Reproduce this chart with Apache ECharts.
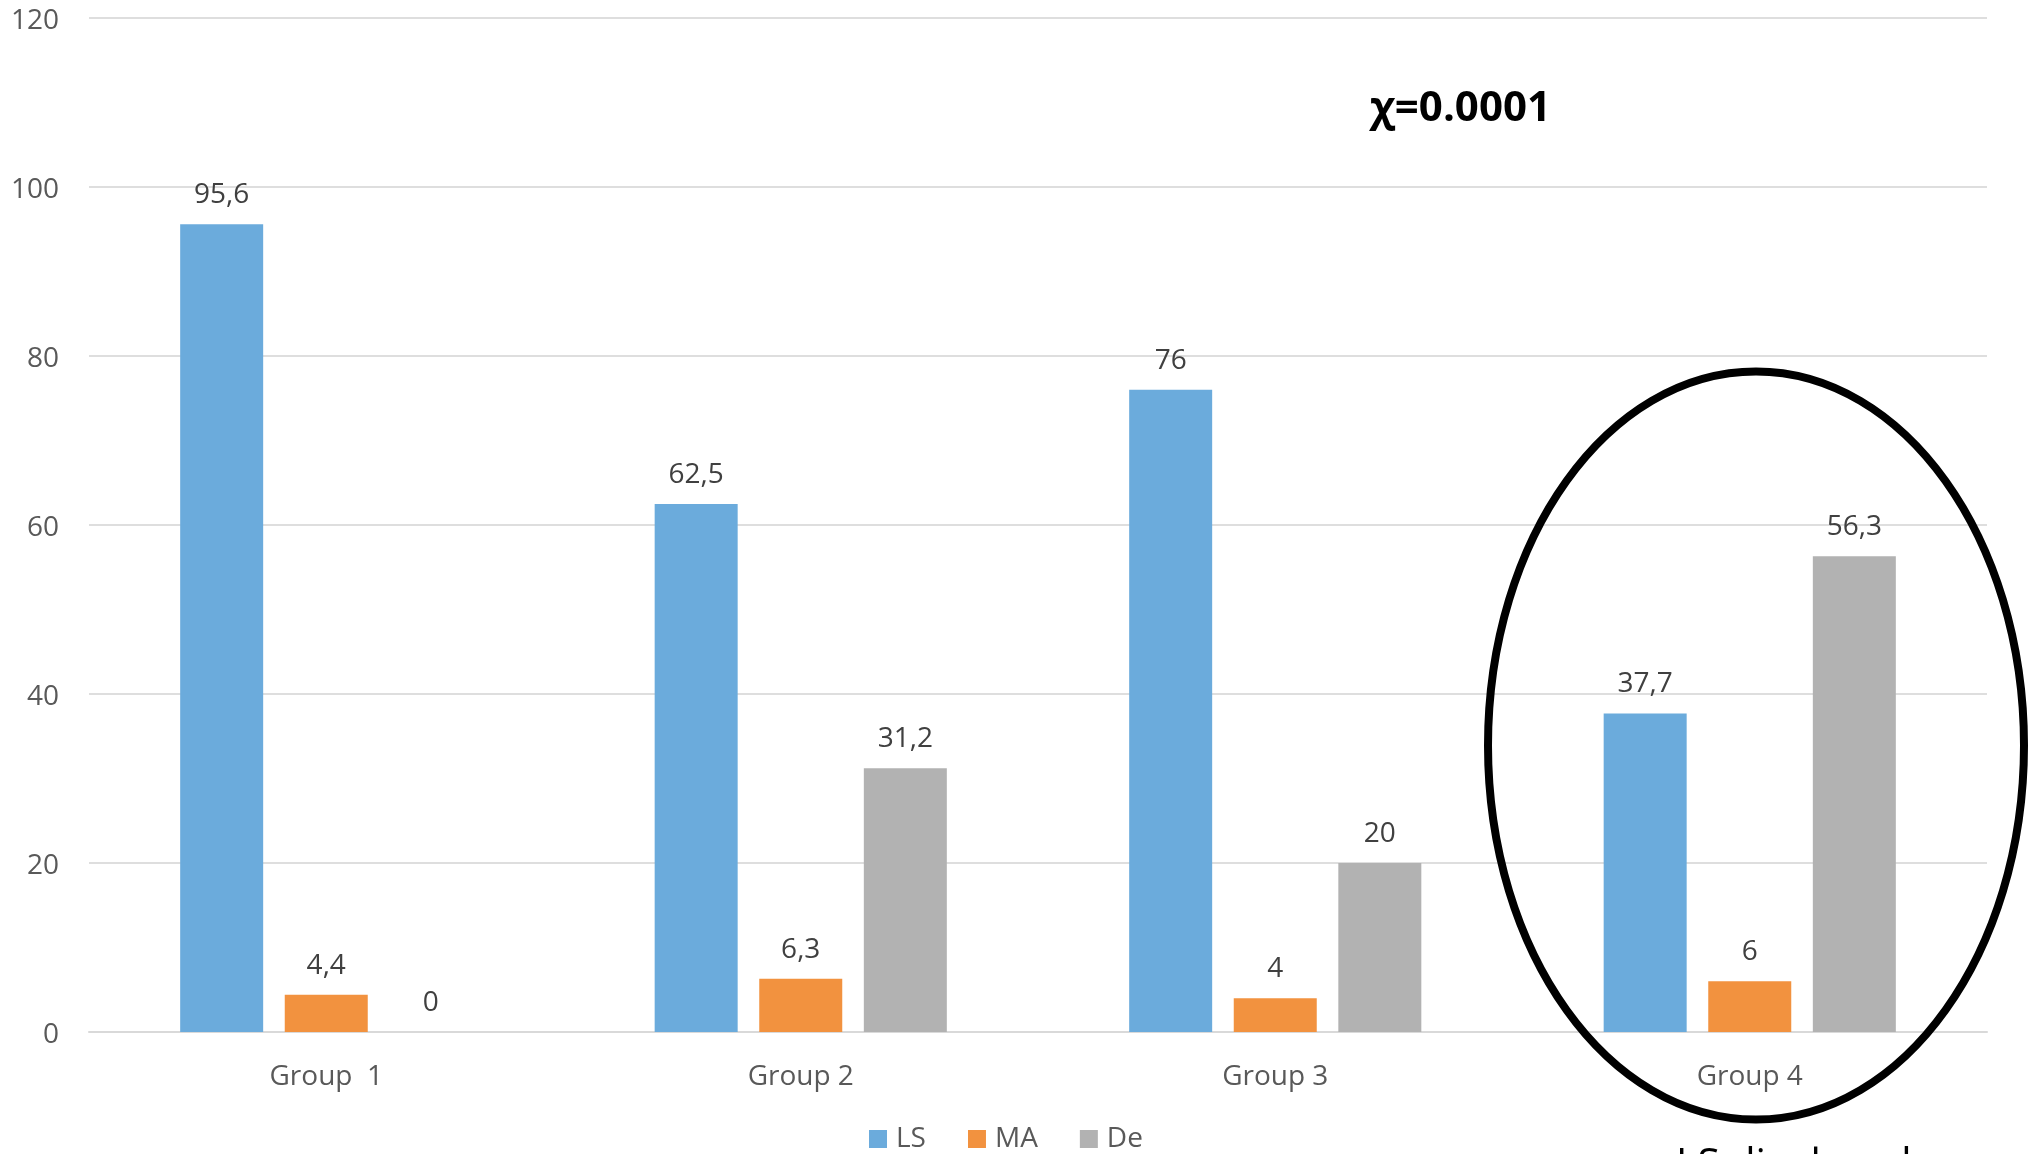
<!DOCTYPE html>
<html>
<head>
<meta charset="utf-8">
<title>LS / MA / De by group</title>
<script src="https://cdn.jsdelivr.net/npm/echarts@6/dist/echarts.min.js"></script>
<style>
  html, body { margin: 0; padding: 0; background: #ffffff; }
  #chart { width: 2036px; height: 1154px; }
</style>
</head>
<body>
<div id="chart"></div>
<script>
// Groups along the category axis
const groups = ['Group  1', 'Group 2', 'Group 3', 'Group 4'];

// Percentages per group
const lsValues = [95.6, 62.5, 76, 37.7];
const maValues = [4.4, 6.3, 4, 6];
const deValues = [0, 31.2, 20, 56.3];

// Value axis range
const yMin = 0;
const yMax = 120;
const yStep = 20;

const seriesNames = ['LS', 'MA', 'De'];
const seriesColors = ['#6BABDC', '#F2923F', '#B2B2B2'];

const FONT = '"Open Sans", "Noto Sans", sans-serif';

// Decimal comma, as printed on the bars
const commaFmt = p => String(p.value).replace('.', ',');

function barSeries(name, values, color) {
  return {
    name: name,
    type: 'bar',
    data: values,
    barWidth: 83,
    barGap: '26%',
    itemStyle: { color: color },
    label: {
      show: true,
      position: 'top',
      distance: 15,
      formatter: commaFmt,
      color: '#404040',
      fontFamily: FONT,
      fontSize: 28
    }
  };
}

const chart = echarts.init(document.getElementById('chart'), null, { renderer: 'canvas' });

chart.setOption({
  animation: false,
  backgroundColor: '#ffffff',
  grid: { left: 89, right: 49, top: 18, bottom: 122, containLabel: false },
  xAxis: {
    type: 'category',
    data: groups,
    axisTick: { show: false },
    axisLine: { lineStyle: { color: '#D9D9D9', width: 2 } },
    axisLabel: { color: '#595959', fontFamily: FONT, fontSize: 28, margin: 31 }
  },
  yAxis: {
    type: 'value',
    min: yMin,
    max: yMax,
    interval: yStep,
    axisLine: { show: false },
    axisTick: { show: false },
    splitLine: { lineStyle: { color: '#DEDEDE', width: 2 } },
    axisLabel: {
      color: '#595959', fontFamily: FONT, fontSize: 28, margin: 30,
      verticalAlign: 'top', lineHeight: 6
    }
  },
  legend: {
    data: seriesNames,
    left: 864,
    top: 1120,
    itemWidth: 18,
    itemHeight: 18,
    itemGap: 42,
    icon: 'rect',
    textStyle: { color: '#595959', fontFamily: FONT, fontSize: 28, padding: [0, 0, 0, 4] }
  },
  series: [
    barSeries(seriesNames[0], lsValues, seriesColors[0]),
    barSeries(seriesNames[1], maValues, seriesColors[1]),
    barSeries(seriesNames[2], deValues, seriesColors[2])
  ],
  graphic: [
    {
      type: 'text',
      style: {
        x: 1370,
        y: 109,
        text: 'χ=0.0001',
        fill: '#000000',
        font: 'bold 42px ' + FONT,
        verticalAlign: 'middle',
        align: 'left'
      }
    },
    {
      type: 'ellipse',
      shape: { cx: 1756, cy: 745.5, rx: 268, ry: 374 },
      style: { fill: 'none', stroke: '#000000', lineWidth: 8 },
      z: 10
    },
    {
      type: 'text',
      style: {
        x: 1676,
        y: 1165,
        text: 'LS displaced',
        fill: '#000000',
        font: '41px ' + FONT,
        verticalAlign: 'middle',
        align: 'left'
      }
    }
  ]
});
</script>
</body>
</html>
